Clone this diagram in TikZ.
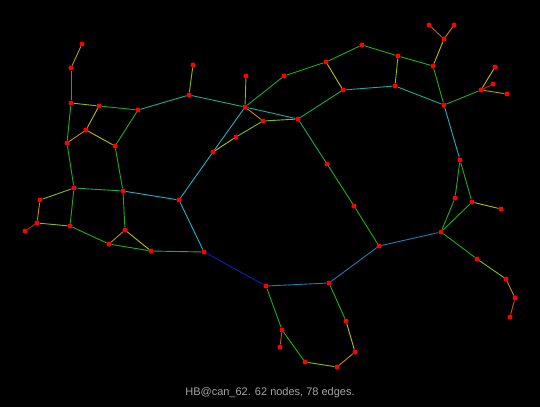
\documentclass[tikz,border=0pt]{standalone}
\usepackage{fontspec}
\setmainfont{Liberation Sans}
\usepackage{xcolor}
\usepackage{tikz}

\definecolor{ered}{RGB}{210,40,0}
\definecolor{ebrown}{RGB}{200,90,10}
\definecolor{eorange}{RGB}{205,135,0}
\definecolor{eolive}{RGB}{175,160,0}
\definecolor{eyellow}{RGB}{190,190,0}
\definecolor{eygreen}{RGB}{130,190,10}
\definecolor{egreen}{RGB}{30,175,20}
\definecolor{egteal}{RGB}{20,170,90}
\definecolor{eteal}{RGB}{20,175,155}
\definecolor{ecyan}{RGB}{25,180,200}
\definecolor{esteel}{RGB}{25,125,185}
\definecolor{eblue}{RGB}{10,30,190}
\definecolor{capgray}{RGB}{165,165,165}

\begin{document}
\begin{tikzpicture}[x=1pt,y=-1pt,vtx/.style={circle,fill=red,inner sep=0pt,minimum size=5pt}]
	\fill[black] (0,0) rectangle (540,407);

	\node[vtx,name=1] at (82,44) {};
	\node[vtx,name=2] at (71,68) {};
	\node[vtx,name=3] at (71,103) {};
	\node[vtx,name=4] at (99,106) {};
	\node[vtx,name=5] at (138,110) {};
	\node[vtx,name=6] at (189,95) {};
	\node[vtx,name=7] at (193,65) {};
	\node[vtx,name=8] at (86,130) {};
	\node[vtx,name=9] at (67,143) {};
	\node[vtx,name=10] at (115,146) {};
	\node[vtx,name=11] at (213,152) {};
	\node[vtx,name=12] at (74,188) {};
	\node[vtx,name=13] at (123,191) {};
	\node[vtx,name=14] at (179,200) {};
	\node[vtx,name=15] at (40,200) {};
	\node[vtx,name=16] at (37,223) {};
	\node[vtx,name=17] at (25,231) {};
	\node[vtx,name=18] at (70,226) {};
	\node[vtx,name=19] at (125,230) {};
	\node[vtx,name=20] at (109,244) {};
	\node[vtx,name=21] at (151,251) {};
	\node[vtx,name=22] at (204,252) {};
	\node[vtx,name=23] at (246,76) {};
	\node[vtx,name=24] at (245,107) {};
	\node[vtx,name=25] at (284,76) {};
	\node[vtx,name=26] at (326,62) {};
	\node[vtx,name=27] at (362,45) {};
	\node[vtx,name=28] at (343,90) {};
	\node[vtx,name=29] at (263,121) {};
	\node[vtx,name=30] at (298,119) {};
	\node[vtx,name=31] at (236,137) {};
	\node[vtx,name=32] at (327,164) {};
	\node[vtx,name=33] at (354,206) {};
	\node[vtx,name=34] at (429,25) {};
	\node[vtx,name=35] at (454,25) {};
	\node[vtx,name=36] at (444,39) {};
	\node[vtx,name=37] at (398,56) {};
	\node[vtx,name=38] at (433,66) {};
	\node[vtx,name=39] at (395,86) {};
	\node[vtx,name=40] at (444,105) {};
	\node[vtx,name=41] at (481,90) {};
	\node[vtx,name=42] at (495,67) {};
	\node[vtx,name=43] at (493,84) {};
	\node[vtx,name=44] at (507,94) {};
	\node[vtx,name=45] at (460,160) {};
	\node[vtx,name=46] at (455,198) {};
	\node[vtx,name=47] at (472,202) {};
	\node[vtx,name=48] at (501,209) {};
	\node[vtx,name=49] at (441,232) {};
	\node[vtx,name=50] at (266,286) {};
	\node[vtx,name=51] at (329,283) {};
	\node[vtx,name=52] at (379,246) {};
	\node[vtx,name=53] at (282,330) {};
	\node[vtx,name=54] at (280,347) {};
	\node[vtx,name=55] at (305,362) {};
	\node[vtx,name=56] at (337,367) {};
	\node[vtx,name=57] at (355,352) {};
	\node[vtx,name=58] at (346,321) {};
	\node[vtx,name=59] at (477,259) {};
	\node[vtx,name=60] at (506,279) {};
	\node[vtx,name=61] at (515,298) {};
	\node[vtx,name=62] at (510,317) {};

	\path[line width=0.9pt] (1) edge[eolive] (2)
		(2) edge[egreen] (3)
		(3) edge[eygreen] (4)
		(4) edge[egreen] (5)
		(5) edge[eteal] (6)
		(6) edge[eygreen] (7)
		(4) edge[eyellow] (8)
		(8) edge[eorange] (9)
		(3) edge[egreen] (9)
		(8) edge[eyellow] (10)
		(5) edge[egreen] (10)
		(9) edge[egreen] (12)
		(10) edge[egreen] (13)
		(12) edge[egteal] (13)
		(13) edge[ecyan] (14)
		(12) edge[eygreen] (15)
		(15) edge[eorange] (16)
		(16) edge[ered] (17)
		(16) edge[eygreen] (18)
		(12) edge[egreen] (18)
		(13) edge[egreen] (19)
		(18) edge[egreen] (20)
		(19) edge[eorange] (20)
		(19) edge[eyellow] (21)
		(20) edge[egreen] (21)
		(21) edge[egteal] (22)
		(14) edge[ecyan] (22)
		(14) edge[ecyan] (11)
		(22) edge[eblue] (50)
		(6) edge[eteal] (24)
		(23) edge[eygreen] (24)
		(24) edge[ecyan] (11)
		(24) edge[egteal] (25)
		(25) edge[egreen] (26)
		(26) edge[egreen] (27)
		(26) edge[eyellow] (28)
		(24) edge[eorange] (29)
		(29) edge[eygreen] (30)
		(24) edge[eteal] (30)
		(29) edge[eygreen] (31)
		(31) edge[eyellow] (11)
		(30) edge[egteal] (28)
		(30) edge[egteal] (32)
		(32) edge[egreen] (33)
		(33) edge[egreen] (52)
		(28) edge[eteal] (39)
		(39) edge[eygreen] (37)
		(27) edge[egreen] (37)
		(37) edge[egreen] (38)
		(38) edge[eyellow] (36)
		(36) edge[ebrown] (34)
		(36) edge[eorange] (35)
		(38) edge[egreen] (40)
		(39) edge[eteal] (40)
		(40) edge[egreen] (41)
		(41) edge[eyellow] (42)
		(41) edge[ered] (43)
		(41) edge[eolive] (44)
		(40) edge[ecyan] (45)
		(45) edge[egreen] (46)
		(45) edge[egreen] (47)
		(47) edge[eyellow] (48)
		(46) edge[egreen] (49)
		(47) edge[egreen] (49)
		(49) edge[esteel] (52)
		(50) edge[esteel] (51)
		(51) edge[esteel] (52)
		(50) edge[egreen] (53)
		(53) edge[ebrown] (54)
		(53) edge[egreen] (55)
		(55) edge[eygreen] (56)
		(56) edge[eorange] (57)
		(57) edge[eyellow] (58)
		(58) edge[egreen] (51)
		(49) edge[egreen] (59)
		(59) edge[eygreen] (60)
		(60) edge[eorange] (61)
		(61) edge[ebrown] (62);

	\node[name=caption,text=capgray,font=\fontsize{11}{13}\selectfont] at (270,393) {HB@can\_62. 62 nodes, 78 edges.};
\end{tikzpicture}
\end{document}
